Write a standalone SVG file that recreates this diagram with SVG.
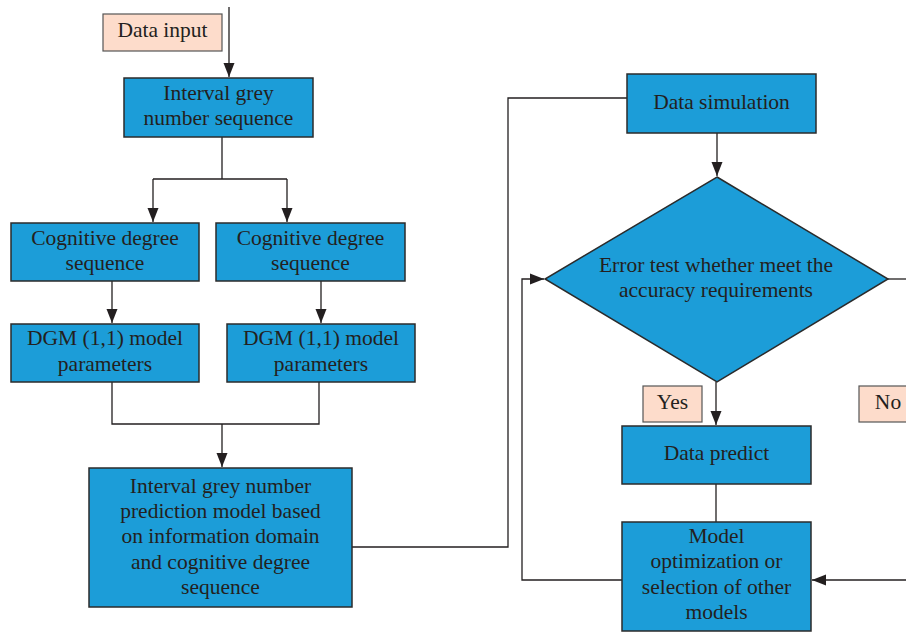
<svg xmlns="http://www.w3.org/2000/svg" width="906" height="633" viewBox="0 0 906 633">
<style>
.n{fill:#1c9dd8;stroke:#2b2b2b;stroke-width:1.5}
.l{fill:#fddccb;stroke:#555;stroke-width:1.2}
.c{fill:none;stroke:#231f20;stroke-width:1.3}
text{font-family:"Liberation Serif","Times New Roman",serif;font-size:21.5px;fill:#231f20;text-anchor:middle}
</style>
<defs>
<marker id="a" markerUnits="userSpaceOnUse" markerWidth="14" markerHeight="12" refX="14" refY="6" orient="auto">
<path d="M0,0.5 L14,6 L0,11.5 Z" fill="#231f20"/>
</marker>
</defs>
<g id="connectors">
<path class="c" d="M229,7 V77" marker-end="url(#a)"/>
<path class="c" d="M222,137 V179 M153,179 H287"/>
<path class="c" d="M153,179 V222" marker-end="url(#a)"/>
<path class="c" d="M287,179 V222" marker-end="url(#a)"/>
<path class="c" d="M112,281 V323" marker-end="url(#a)"/>
<path class="c" d="M321,281 V323" marker-end="url(#a)"/>
<path class="c" d="M112,382 V424 H319 V382"/>
<path class="c" d="M222,424 V467" marker-end="url(#a)"/>
<path class="c" d="M352,547 H508 V98 H627"/>
<path class="c" d="M717,133 V176" marker-end="url(#a)"/>
<path class="c" d="M888,279 H906"/>
<path class="c" d="M716,382 V425" marker-end="url(#a)"/>
<path class="c" d="M716,484 V522"/>
<path class="c" d="M622,580 H522 V279 H544" marker-end="url(#a)"/>
<path class="c" d="M906,580 H812" marker-end="url(#a)"/>
</g>
<g id="data-input"><rect class="l" x="103" y="14" width="119" height="37"/><text x="162.5" y="37">Data input</text></g>
<g id="interval-seq"><rect class="n" x="124" y="78" width="189" height="59"/><text x="218.5" y="100">Interval grey</text><text x="218.5" y="125">number sequence</text></g>
<g id="cog-left"><rect class="n" x="11" y="223" width="188" height="58"/><text x="105" y="245">Cognitive degree</text><text x="105" y="270">sequence</text></g>
<g id="cog-right"><rect class="n" x="216" y="223" width="189" height="58"/><text x="310.5" y="245">Cognitive degree</text><text x="310.5" y="270">sequence</text></g>
<g id="dgm-left"><rect class="n" x="11" y="324" width="188" height="58"/><text x="105" y="345">DGM (1,1) model</text><text x="105" y="371">parameters</text></g>
<g id="dgm-right"><rect class="n" x="227" y="324" width="188" height="58"/><text x="321" y="345">DGM (1,1) model</text><text x="321" y="371">parameters</text></g>
<g id="prediction-model"><rect class="n" x="89" y="468" width="263" height="139"/>
<text x="220.5" y="493">Interval grey number</text>
<text x="220.5" y="518">prediction model based</text>
<text x="220.5" y="543">on information domain</text>
<text x="220.5" y="569">and cognitive degree</text>
<text x="220.5" y="594">sequence</text></g>
<g id="data-simulation"><rect class="n" x="627" y="74" width="189" height="59"/><text x="721.5" y="109">Data simulation</text></g>
<g id="error-test"><path class="n" d="M717,177 L888,279 L717,382 L545,279 Z"/><text x="716" y="272">Error test whether meet the</text><text x="716" y="297">accuracy requirements</text></g>
<g id="yes"><rect class="l" x="643" y="386" width="59" height="36"/><text x="672.5" y="409">Yes</text></g>
<g id="no"><rect class="l" x="859" y="386" width="60" height="36"/><text x="888" y="409">No</text></g>
<g id="data-predict"><rect class="n" x="622" y="426" width="189" height="58"/><text x="716.5" y="460">Data predict</text></g>
<g id="model-opt"><rect class="n" x="622" y="522" width="189" height="109"/>
<text x="716.5" y="543">Model</text>
<text x="716.5" y="568">optimization or</text>
<text x="716.5" y="594">selection of other</text>
<text x="716.5" y="619">models</text></g>
</svg>
